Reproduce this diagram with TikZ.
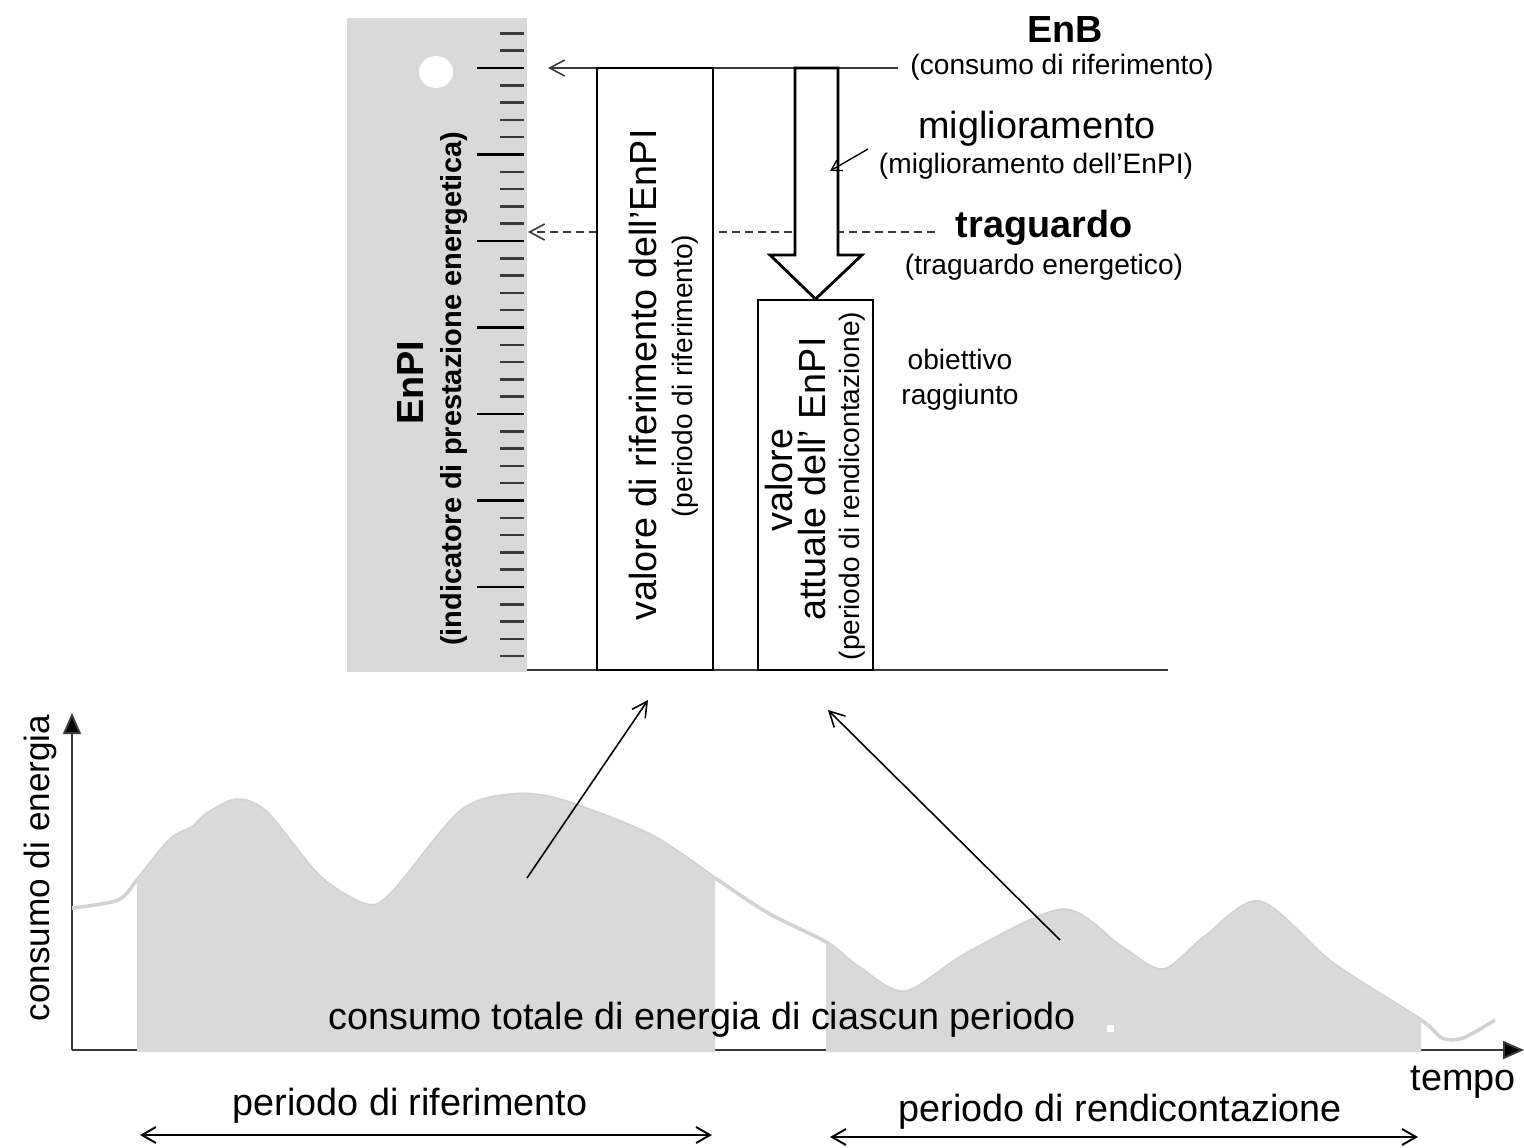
\documentclass[tikz,border=0pt]{standalone}
\usepackage{fontspec}
\setmainfont{Liberation Sans}
\usepackage{tikz}
\usetikzlibrary{
  arrows.meta,
  positioning
}
\definecolor{RulerGray}{HTML}{D9D9D9}
\definecolor{AreaGray}{HTML}{D9D9D9}
\definecolor{CurveGray}{HTML}{D2D2D2}
\definecolor{TickGray}{HTML}{3A3A3A}
\newcommand\pxu{0.02cm}
\tikzset{
  bigtext/.style={
    font=\fontsize{21.5}{24}\selectfont,
    inner sep=0pt
  },
  bigbold/.style={
    font=\fontsize{21.5}{24}\selectfont\bfseries,
    inner sep=0pt
  },
  smalltext/.style={
    font=\fontsize{16}{20}\selectfont,
    inner sep=0pt
  },
  valbox/.style={
    draw,
    line width=1.1pt,
    fill=white,
    inner sep=0pt
  },
  ticksm/.style={
    TickGray,
    line width=1.4pt
  },
  ticklong/.style={
    black,
    line width=1.5pt
  },
  pointer/.style={
    -{Straight Barb[length=0.3cm, width=0.32cm]},
    line width=0.9pt
  },
  guide/.style={
    pointer,
    dash pattern=on 0.16cm off 0.1cm,
    TickGray
  },
  hollowarrow/.style={
    draw,
    fill=white,
    line width=1.6pt,
    line join=miter
  },
  axisline/.style={
    -{Triangle[length=0.42cm, width=0.36cm, fill=black]},
    line width=1.1pt,
    TickGray
  },
  periodspan/.style={
    {Straight Barb[length=0.28cm, width=0.32cm]}-{Straight Barb[length=0.28cm, width=0.32cm]},
    line width=1.1pt
  },
  curveline/.style={
    CurveGray,
    line width=2pt
  },
  energycurve/.style={
    insert path={
      plot[smooth, tension=0.5] coordinates {
        (72,908) (118,900) (137,880) (170,840) (193,827) (207,814)
        (237,800) (267,813) (320,877) (367,905) (393,892) (460,812)
        (510,795) (560,800) (650,835) (715,878) (768,913) (826,942)
        (858,967) (905,992) (968,953) (1063,910) (1121,947) (1163,970)
        (1205,937) (1260,902) (1332,963) (1421,1020) (1442,1038)
        (1463,1038) (1495,1020)
      }
    }
  }
}

\begin{document}
\begin{tikzpicture}[x=0.02cm, y=-0.02cm]

  \useasboundingbox (0,0) rectangle (1524,1147);

  % ruler
  \fill[RulerGray] (347,18) rectangle (527,672);
  \fill[white] (436,72) ellipse [x radius=0.34cm, y radius=0.32cm];
  \foreach \k in {-2,...,34}
    \draw[ticksm] (500,{68+17.3*\k}) -- (524,{68+17.3*\k});
  \foreach \k in {0,...,6}
    \draw[ticklong] (477,{68+86.5*\k}) -- (524,{68+86.5*\k});

  \node[bigbold, rotate=90, anchor=base] (enpi) at (423,383) {EnPI};
  \node[
    smalltext,
    font=\fontsize{16.5}{20}\selectfont\bfseries,
    rotate=90,
    anchor=base
  ] (enpisub) at (461,389) {(indicatore di prestazione energetica)};

  % EnB and target lines
  \coordinate (enbend) at (898,68);
  \coordinate (enbtip) at (548,68);
  \coordinate (goalend) at (935,232);
  \coordinate (goaltip) at (528,232);
  \draw[guide] (goalend) -- (goaltip);
  \draw[pointer, TickGray] (enbend) -- (enbtip);
  \draw[TickGray, line width=1.1pt] (527,670) -- (1168,670);

  % boxes
  \node[
    valbox,
    minimum width=116*\pxu,
    minimum height=602*\pxu
  ] (refbox) at (655,369) {};
  \node[
    valbox,
    minimum width=115*\pxu,
    minimum height=370*\pxu
  ] (curbox) at (815.5,485) {};

  \node[bigtext, rotate=90, anchor=base] (reftext) at (656,375)
    {valore di riferimento dell’EnPI};
  \node[smalltext, rotate=90, anchor=base] (refsub) at (692,376)
    {(periodo di riferimento)};
  \node[bigtext, rotate=90, anchor=base] (curtexta) at (792,480)
    {valore};
  \node[bigtext, rotate=90, anchor=base] (curtextb) at (825,479)
    {attuale dell’ EnPI};
  \node[smalltext, rotate=90, anchor=base] (cursub) at (859,486)
    {(periodo di rendicontazione)};

  % improvement arrow
  \draw[hollowarrow]
    (795,68) -- (795,255) -- (770,255) -- (curbox.north)
    -- (862,255) -- (838,255) -- (838,68) -- cycle;

  % labels on the right
  \node[bigbold] (enb) at (1065,29) {EnB};
  \node[smalltext] (enbsub) at (1062,67) {(consumo di riferimento)};
  \node[bigtext] (improve) at (1037,129) {miglioramento};
  \node[smalltext] (improvesub) at (1036,166)
    {(miglioramento dell’EnPI)};
  \node[bigbold] (goal) at (1044,228) {traguardo};
  \node[smalltext] (goalsub) at (1044,267) {(traguardo energetico)};
  \node[
    smalltext,
    align=center
  ] (reached) at (960,380) {obiettivo\\raggiunto};

  \coordinate (improvefrom) at (868,149);
  \coordinate (improveto) at (830,171);
  \draw[
    -{Straight Barb[length=0.2cm, width=0.24cm]},
    line width=0.8pt
  ] (improvefrom) -- (improveto);

  % energy consumption chart
  \coordinate (origin) at (72,1050);
  \coordinate (ytip) at (72,713);
  \coordinate (xtip) at (1524,1050);
  \draw[axisline] (origin) -- (ytip);
  \draw[axisline] (origin) -- (xtip);

  \draw[curveline, energycurve];
  \begin{scope}
    \clip (137,700) rectangle (715,1052) (826,700) rectangle (1421,1052);
    \fill[AreaGray, energycurve] -- (1495,1052) -- (72,1052) -- cycle;
  \end{scope}
  \fill[white] (1107,1025) rectangle (1114,1032);

  \node[bigtext] (total) at (702,1020)
    {consumo totale di energia di ciascun periodo};
  \node[
    bigtext,
    font=\fontsize{20}{24}\selectfont,
    rotate=90,
    anchor=base
  ] (yaxislabel) at (49,868) {consumo di energia};
  \node[bigtext] (tempo) at (1463,1082) {tempo};

  % links from the periods to the values
  \coordinate (refarea) at (527,878);
  \coordinate (refhead) at (648,700);
  \coordinate (curarea) at (1060,940);
  \coordinate (curhead) at (828,710);
  \draw[pointer] (refarea) -- (refhead);
  \draw[pointer] (curarea) -- (curhead);

  % periods
  \node[bigtext] (refperiod) at (410,1106) {periodo di riferimento};
  \node[bigtext] (curperiod) at (1120,1112) {periodo di rendicontazione};
  \coordinate (refstart) at (140,1135);
  \coordinate (refstop) at (712,1135);
  \coordinate (curstart) at (830,1137);
  \coordinate (curstop) at (1418,1137);
  \draw[periodspan] (refstart) -- (refstop);
  \draw[periodspan] (curstart) -- (curstop);

\end{tikzpicture}
\end{document}
